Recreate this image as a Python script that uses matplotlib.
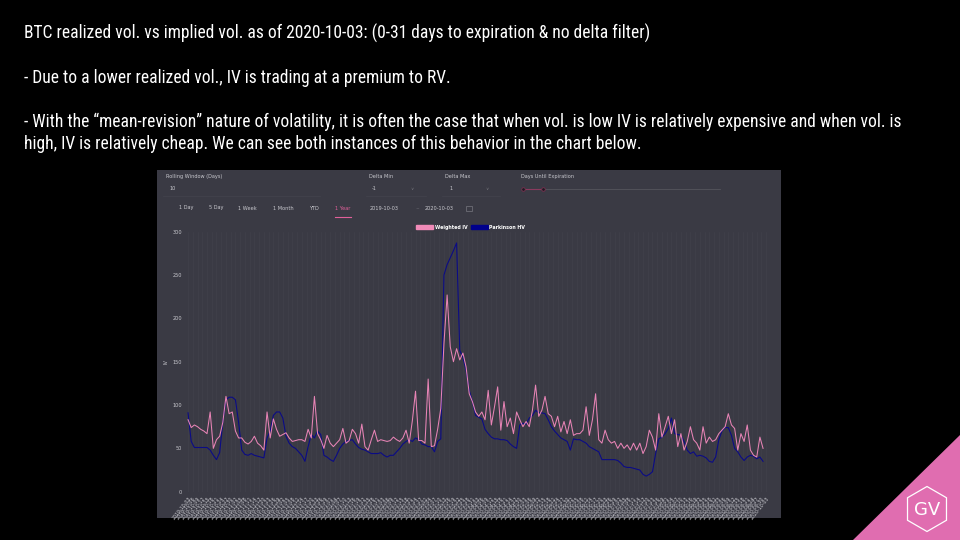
import matplotlib
matplotlib.use("Agg")
import matplotlib.pyplot as plt
import matplotlib.dates as mdates
from matplotlib import font_manager
from matplotlib.patches import Patch, Rectangle, Polygon
import numpy as np
import pandas as pd

# data, one value every 2 days from 2019-10-03
start = "2019-10-03"
end = "2020-10-03"

weighted_iv = [
    83, 74, 77, 75, 72, 70, 67, 92, 50, 60,
    64, 80, 110, 90, 92, 70, 62, 62, 57, 55,
    58, 64, 56, 53, 48, 92, 62, 84, 72, 64,
    66, 68, 62, 58, 59, 60, 60, 58, 72, 62,
    110, 67, 60, 50, 65, 56, 52, 56, 60, 73,
    56, 59, 72, 67, 56, 78, 52, 48, 60, 71,
    58, 60, 59, 58, 59, 63, 60, 58, 62, 71,
    56, 82, 116, 59, 59, 56, 130, 52, 53, 72,
    96, 171, 227, 167, 150, 165, 152, 160, 144, 113,
    104, 92, 87, 92, 83, 117, 77, 98, 121, 71,
    104, 75, 85, 67, 92, 83, 75, 81, 75, 94,
    123, 87, 94, 110, 90, 87, 75, 87, 69, 81,
    67, 83, 65, 67, 67, 71, 98, 65, 83, 113,
    60, 56, 71, 60, 56, 58, 50, 56, 50, 54,
    48, 56, 48, 56, 44, 52, 71, 63, 48, 90,
    63, 75, 87, 67, 83, 52, 67, 48, 58, 75,
    60, 56, 48, 75, 56, 63, 58, 60, 67, 71,
    75, 90, 77, 73, 48, 67, 58, 77, 48, 42,
    40, 63, 50,
]

parkinson_hv = [
    91, 58, 51, 51, 51, 51, 51, 48, 42, 37,
    45, 80, 106, 109, 109, 106, 80, 48, 43, 42,
    44, 42, 41, 40, 39, 62, 70, 88, 92, 92,
    85, 64, 56, 52, 50, 46, 42, 35, 52, 66,
    62, 70, 66, 42, 40, 37, 35, 42, 50, 55,
    58, 59, 60, 55, 51, 49, 48, 46, 44, 44,
    44, 45, 42, 40, 42, 42, 46, 50, 55, 58,
    60, 58, 62, 60, 55, 54, 52, 52, 46, 58,
    61, 250, 262, 270, 278, 287, 163, 155, 140, 117,
    104, 88, 86, 84, 72, 67, 63, 61, 61, 60,
    60, 59, 55, 52, 50, 77, 79, 78, 85, 88,
    94, 91, 91, 90, 83, 75, 70, 66, 62, 60,
    58, 48, 61, 60, 60, 58, 56, 52, 50, 48,
    46, 37, 37, 37, 37, 37, 36, 33, 29, 28,
    28, 27, 26, 25, 20, 18, 20, 23, 44, 61,
    63, 67, 73, 85, 67, 66, 65, 58, 48, 44,
    46, 41, 42, 41, 39, 35, 34, 40, 60, 70,
    74, 74, 65, 50, 46, 40, 36, 40, 42, 41,
    38, 40, 35,
]

legend_labels = ["Weighted IV", "Parkinson HV"]
y_ticks = [0, 50, 100, 150, 200, 250, 300]
tabs = ["1 Day", "5 Day", "1 Week", "1 Month", "YTD", "1 Year"]
tab_x = [186, 216, 247, 283, 314, 343]

title = "BTC realized vol. vs implied vol. as of 2020-10-03: (0-31 days to expiration & no delta filter)"
note_1 = "- Due to a lower realized vol., IV is trading at a premium to RV."
note_2a = ("- With the \u201cmean-revision\u201d nature of volatility, it is often the case that "
           "when vol. is low IV is relatively expensive and when vol. is")
note_2b = "high, IV is relatively cheap. We can see both instances of this behavior in the chart below."

pink = "#e884b6"
navy = "#0b0b86"
panel = "#3a3a44"
light = "#c9c9cf"

# pick a narrow font if one is there
head_font = "DejaVu Sans"
for name in ["Liberation Sans Narrow", "Roboto Condensed", "Open Sans Condensed",
             "DejaVu Sans Condensed", "Liberation Sans"]:
    try:
        font_manager.findfont(font_manager.FontProperties(family=name), fallback_to_default=False)
        head_font = name
        break
    except ValueError:
        pass


def fx(x):
    return x / 960


def fy(y):
    return 1 - y / 540


fig = plt.figure(figsize=(9.6, 5.4), dpi=100, facecolor="black")

# slide text, sized so the title is as wide as in the slide
head = []
for txt, y in [(title, 33), (note_1, 78), (note_2a, 122), (note_2b, 144)]:
    head.append(fig.text(fx(24), fy(y), txt, color="white", fontsize=12, family=head_font,
                         va="center"))
renderer = fig.canvas.get_renderer()
w = head[0].get_window_extent(renderer).width
size = 12 * 627 / w
for t in head:
    t.set_fontsize(size)
    if size < 11:
        t.set_fontstretch("condensed")

# screenshot panel
fig.patches.append(Rectangle((fx(157), fy(518)), 624 / 960, 348 / 540,
                             transform=fig.transFigure, facecolor=panel, zorder=-5))

# control bar
fig.text(fx(166), fy(177), "Rolling Window (Days)", color=light, fontsize=3.6, va="center")
fig.text(fx(170), fy(189), "10", color=light, fontsize=3.6, va="center")
fig.text(fx(369), fy(177), "Delta Min", color=light, fontsize=3.6, va="center")
fig.text(fx(372), fy(189), "-1", color=light, fontsize=3.6, va="center")
fig.text(fx(445), fy(177), "Delta Max", color=light, fontsize=3.6, va="center")
fig.text(fx(450), fy(189), "1", color=light, fontsize=3.6, va="center")
fig.text(fx(410), fy(189), "\u2228", color="#77777f", fontsize=3.2, va="center")
fig.text(fx(485), fy(189), "\u2228", color="#77777f", fontsize=3.2, va="center")
fig.text(fx(521), fy(177), "Days Until Expiration", color=light, fontsize=3.6, va="center")
fig.lines.append(plt.Line2D([fx(543), fx(720)], [fy(189), fy(189)], transform=fig.transFigure,
                            color="#55555d", lw=0.6))
fig.lines.append(plt.Line2D([fx(523), fx(543)], [fy(189), fy(189)], transform=fig.transFigure,
                            color="#8a3a5e", lw=0.8))
for dot_x in [523, 543]:
    fig.lines.append(plt.Line2D([fx(dot_x)], [fy(189)], transform=fig.transFigure, marker="o",
                                markersize=2.6, markerfacecolor="#1c1c22",
                                markeredgecolor="#7a3050", markeredgewidth=0.6))
for x_a, x_b in [(163, 320), (366, 426), (442, 500)]:
    fig.lines.append(plt.Line2D([fx(x_a), fx(x_b)], [fy(196), fy(196)],
                                transform=fig.transFigure, color="#44444d", lw=0.5))

for label, x in zip(tabs, tab_x):
    fig.text(fx(x), fy(208), label, color="#e0609a" if label == "1 Year" else light,
             fontsize=3.6, va="center", ha="center")
fig.lines.append(plt.Line2D([fx(335), fx(351)], [fy(217), fy(217)], transform=fig.transFigure,
                            color="#e0609a", lw=0.8))
fig.text(fx(384), fy(208), "2019-10-03", color=light, fontsize=3.6, va="center", ha="center")
fig.text(fx(417), fy(209), "~", color="#88888f", fontsize=3.2, va="center", ha="center")
fig.text(fx(439), fy(208), "2020-10-03", color=light, fontsize=3.6, va="center", ha="center")
fig.patches.append(Rectangle((fx(466), fy(211)), 6 / 960, 5 / 540, transform=fig.transFigure,
                             facecolor="none", edgecolor="#77777f", lw=0.5))

# chart
ax = fig.add_axes([fx(186), fy(491.7), (767 - 186) / 960, 260 / 540])
ax.set_facecolor(panel)
dates_iv = pd.date_range(start, periods=len(weighted_iv), freq="2D")
dates_hv = pd.date_range(start, periods=len(parkinson_hv), freq="2D")
ax.plot(dates_hv, parkinson_hv, color=navy, lw=0.8, zorder=3)
ax.plot(dates_iv, weighted_iv, color=pink, lw=0.75, zorder=4)

x0 = mdates.date2num(pd.Timestamp(start))
ax.set_xlim(x0 - 1.3, x0 + 366.5)
ax.set_ylim(0, 300)
ax.set_yticks(y_ticks)
tick_dates = pd.date_range(start, end, freq="3D")
ax.set_xticks(tick_dates)
ax.set_xticklabels([d.strftime("%Y-%m-%d") for d in tick_dates], rotation=52,
                   ha="right", rotation_mode="anchor")
ax.tick_params(axis="x", length=0, colors=light, labelsize=3.4, pad=3)
ax.tick_params(axis="y", length=0, colors=light, labelsize=3.6, pad=3)
ax.grid(axis="x", color="#42424c", lw=0.4)
ax.set_axisbelow(True)
for s in ax.spines.values():
    s.set_visible(False)
ax.set_ylabel("IV", color=light, fontsize=3.6, labelpad=3)

leg = ax.legend(handles=[Patch(facecolor="#f08ab8", edgecolor="#f08ab8"),
                         Patch(facecolor="#00008b", edgecolor="#00008b")],
                labels=legend_labels, loc="lower center", bbox_to_anchor=(0.49, 1.0),
                ncol=2, frameon=False, handlelength=3.6, handleheight=1.0,
                columnspacing=0.7, handletextpad=0.3, borderaxespad=0.2, borderpad=0.2,
                labelcolor="white", prop={"weight": "bold", "size": 3.4})

# corner logo
fig.patches.append(Polygon([(fx(853), fy(540)), (fx(960), fy(540)), (fx(960), fy(435))],
                           closed=True, transform=fig.transFigure, facecolor="#e06db0",
                           edgecolor="none"))
ang = np.deg2rad(90 + 60 * np.arange(6))
hex_pts = [(fx(927 + 22.5 * np.cos(a)), fy(509 - 22.5 * np.sin(a))) for a in ang]
fig.patches.append(Polygon(hex_pts, closed=True, transform=fig.transFigure, facecolor="none",
                           edgecolor="white", lw=0.9))
fig.text(fx(927), fy(510), "GV", color="white", fontsize=13, ha="center", va="center",
         zorder=10)

fig.savefig("out.png", dpi=100, facecolor="black")
